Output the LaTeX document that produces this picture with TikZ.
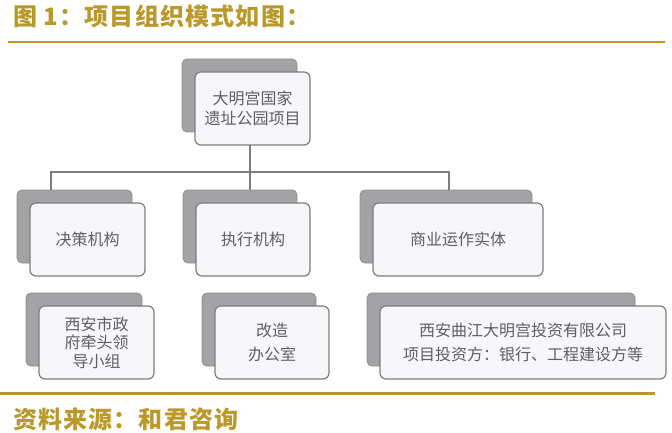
\documentclass[tikz,border=0pt]{standalone}
\usepackage{fontspec}
\setmainfont{Noto Sans CJK SC}
\usepackage{tikz}
\usetikzlibrary{positioning,calc}
\definecolor{gold}{RGB}{186,152,42}
\definecolor{backgray}{RGB}{163,163,166}
\definecolor{linegray}{RGB}{125,125,128}
\definecolor{textgray}{RGB}{95,95,98}
\definecolor{paper}{RGB}{247,247,249}
\tikzset{
	org chart/.style={
		x=1pt, y=-1pt,
		every node/.style={inner sep=0pt, outer sep=0pt},
		bk/.style={fill=backgray, draw=backgray!85!black, line width=.8pt,
			rounded corners=5pt, minimum height=73pt},
		fr/.style={fill=paper, draw=linegray, line width=1.2pt,
			rounded corners=6pt, minimum height=73pt,
			text=textgray, align=center, font=\fontsize{16}{20}\selectfont,
			below right=13pt and 13pt of ##1.north west},
		wire/.style={draw=linegray, line width=2pt},
		rule/.style={draw=gold, line width=2.2pt},
		caption/.style={anchor=west, text=gold,
			font=\fontsize{##1}{##1}\selectfont\bfseries\addfontfeature{LetterSpace=5}}
		},
	wide lines/.style={font=\fontsize{16}{24}\selectfont}
}

\begin{document}
\begin{tikzpicture}[org chart]
      \useasboundingbox (0,0) rectangle (672,433);
      \node[caption=24] (title) at (13,16) {图 1：项目组织模式如图：};
      \draw[rule] (8,42) -- (665,42);
      % top
      \node[bk, minimum width=115pt] (projB) at (239.5,95.5) {};
      \node[fr=projB, minimum width=115pt] (proj) {大明宫国家\\遗址公园项目};
      % second row
      \node[bk, minimum width=115pt] (decB) at (74.5,226.5) {};
      \node[fr=decB, minimum width=115pt] (dec) {决策机构};
      \node[bk, minimum width=114pt] (exeB) at (240,226.5) {};
      \node[fr=exeB, minimum width=114pt] (exe) {执行机构};
      \node[bk, minimum width=172pt] (bizB) at (446,226.5) {};
      \node[fr=bizB, minimum width=170pt] (biz) {商业运作实体};
      % third row
      \node[bk, minimum width=116pt] (grpB) at (84,329.5) {};
      \node[fr=grpB, minimum width=115pt, font=\fontsize{16}{18.5}\selectfont] (grp) {西安市政\\府牵头领\\导小组};
      \node[bk, minimum width=114pt] (ofcB) at (259,329.5) {};
      \node[fr=ofcB, minimum width=114pt, wide lines] (ofc) {改造\\办公室};
      \node[bk, minimum width=268pt] (coB) at (501,329.5) {};
      \node[fr=coB, minimum width=286pt, wide lines] (co) {西安曲江大明宫投资有限公司\\项目投资方：银行、工程建设方等};
      % connectors
      \coordinate (busL) at (50.5,172);
      \coordinate (busM) at (250,172);
      \coordinate (busR) at (449,172);
      \draw[wire] (busM |- proj.south) -- (busM |- exeB.north);
      \draw[wire] (busL |- decB.north) -- (busL) -- (busR) -- (busR |- bizB.north);
      \draw[rule] (0,393.5) -- (655,393.5);
      \node[caption=24] (src) at (13,419) {资料来源：和君咨询};
\end{tikzpicture}
\end{document}
